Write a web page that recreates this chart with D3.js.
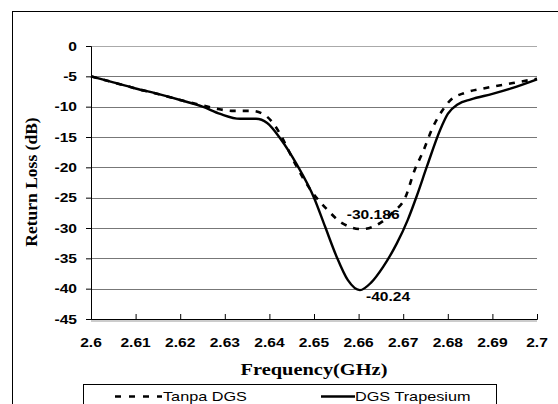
<!DOCTYPE html>
<html><head><meta charset="utf-8">
<script src="https://cdn.jsdelivr.net/npm/d3@7"></script>
<style>html,body{margin:0;padding:0;background:#fff;}svg{display:block;}</style>
</head><body>
<script>
const xTicks = [2.6, 2.61, 2.62, 2.63, 2.64, 2.65, 2.66, 2.67, 2.68, 2.69, 2.7];
const xTickLabels = ["2.6","2.61","2.62","2.63","2.64","2.65","2.66","2.67","2.68","2.69","2.7"];
const yTicks = [0, -5, -10, -15, -20, -25, -30, -35, -40, -45];

const seriesNames = ["Tanpa DGS", "DGS Trapesium"];

const freqTanpa = [2.600,2.605,2.610,2.615,2.620,2.625,2.6285,2.632,2.636,2.639,2.6408,2.6424,2.644,2.6457,2.6495,2.653,2.6563,2.6608,2.6648,2.6677,2.6704,2.6726,2.6744,2.6767,2.6789,2.6805,2.6839,2.688,2.6946,2.700];
const rlTanpa   = [-5.0,-6.0,-7.0,-7.9,-8.9,-9.8,-10.4,-10.7,-10.7,-11.4,-12.7,-14.5,-16.8,-19.3,-24.0,-27.0,-29.2,-30.186,-29.2,-27.4,-25.1,-20.4,-17.5,-13.3,-10.5,-9.0,-7.7,-7.0,-6.1,-5.4];

const freqTrap = [2.600,2.605,2.610,2.615,2.620,2.625,2.629,2.6334,2.637,2.6395,2.6424,2.6462,2.650,2.6525,2.655,2.6576,2.6603,2.6628,2.6655,2.6686,2.671,2.6731,2.6753,2.6783,2.680,2.6823,2.6852,2.690,2.6942,2.700];
const rlTrap   = [-5.0,-6.0,-7.0,-7.9,-8.9,-10.0,-11.2,-12.0,-12.0,-12.7,-15.2,-19.6,-25.0,-29.8,-34.6,-38.6,-40.24,-39.0,-36.4,-32.5,-28.7,-24.6,-19.9,-13.8,-11.2,-9.6,-8.8,-7.9,-7.0,-5.5];

const annotations = [
  {label: "-30.186", f: 2.6608, v: -30.186},
  {label: "-40.24", f: 2.6603, v: -40.24}
];

const W = 558, H = 404;
const svg = d3.select("body").append("svg").attr("width", W).attr("height", H);

// outer frame
svg.append("rect").attr("x", 12.5).attr("y", 11.5).attr("width", 600).attr("height", 450)
  .attr("fill", "none").attr("stroke", "#000").attr("stroke-width", 1);

const x = d3.scaleLinear().domain([2.6, 2.7]).range([91, 537]);
const y = d3.scaleLinear().domain([-45, 0]).range([319, 46]);

const SX = 1.3;
function txt(g, str, px, py, opts) {
  return g.append("text")
    .attr("transform", `translate(${px},${py}) scale(${opts.sx || SX},1)`)
    .attr("text-anchor", opts.anchor || "start")
    .attr("font-family", opts.family || "Arial, 'Liberation Sans', sans-serif")
    .attr("font-weight", opts.weight || "bold")
    .attr("font-size", opts.size || 12)
    .attr("fill", "#000")
    .text(str);
}

// gridlines
svg.append("g").selectAll("line").data(yTicks.filter(d => d > -45)).join("line")
  .attr("x1", x(2.6)).attr("x2", x(2.7))
  .attr("y1", d => Math.round(y(d)) + 0.5).attr("y2", d => Math.round(y(d)) + 0.5)
  .attr("stroke", d => d === 0 ? "#aaa" : "#777").attr("stroke-width", 1);

// bottom gray shadow line
svg.append("line").attr("x1", x(2.6)).attr("x2", x(2.7)).attr("y1", 321).attr("y2", 321)
  .attr("stroke", "#bbb").attr("stroke-width", 1.5);

// y axis
const yAxis = d3.axisLeft(y).tickValues(yTicks).tickSize(5).tickFormat("");
const gy = svg.append("g").attr("transform", `translate(${x(2.6)},0)`).call(yAxis);
gy.select(".domain").attr("stroke", "#000");
gy.selectAll(".tick line").attr("stroke", "#000");
yTicks.forEach(d => txt(svg, String(d), 77, y(d) + 4.5, {anchor: "end", size: 12}));

// x axis
const xAxis = d3.axisBottom(x).tickValues(xTicks).tickSize(-5).tickFormat("");
const gx = svg.append("g").attr("transform", `translate(0,${y(-45)})`).call(xAxis);
gx.select(".domain").attr("stroke", "#000");
gx.selectAll(".tick line").attr("stroke", "#000");
xTicks.forEach((d, i) => txt(svg, xTickLabels[i], x(d), 347, {anchor: "middle", size: 12}));

// axis titles
txt(svg, "Frequency(GHz)", 314, 375, {anchor: "middle", size: 17, sx: 1.2,
  family: "'Times New Roman', 'Liberation Serif', serif"});
svg.append("text")
  .attr("transform", "translate(37,182) rotate(-90)")
  .attr("text-anchor", "middle")
  .attr("font-family", "'Times New Roman', 'Liberation Serif', serif")
  .attr("font-weight", "bold").attr("font-size", 17.5)
  .text("Return Loss (dB)");

// lines
const line = d3.line().x(d => x(d[0])).y(d => y(d[1])).curve(d3.curveMonotoneX);
const dTanpa = freqTanpa.map((f, i) => [f, rlTanpa[i]]);
const dTrap = freqTrap.map((f, i) => [f, rlTrap[i]]);

svg.append("path").datum(dTanpa).attr("d", line).attr("fill", "none")
  .attr("stroke", "#000").attr("stroke-width", 2.6).attr("stroke-dasharray", "6,7");
svg.append("path").datum(dTrap).attr("d", line).attr("fill", "none")
  .attr("stroke", "#000").attr("stroke-width", 2.4);

// annotations
txt(svg, annotations[0].label, x(annotations[0].f) + 11, y(annotations[0].v) - 10, {anchor: "middle", size: 12});
txt(svg, annotations[1].label, x(annotations[1].f) + 6, y(annotations[1].v) + 11, {anchor: "start", size: 12});

// legend
const lg = svg.append("g");
lg.append("rect").attr("x", 83.5).attr("y", 384.5).attr("width", 413).attr("height", 40)
  .attr("fill", "#fff").attr("stroke", "#000").attr("stroke-width", 1);
lg.append("line").attr("x1", 115).attr("x2", 162).attr("y1", 396.5).attr("y2", 396.5)
  .attr("stroke", "#000").attr("stroke-width", 2.6).attr("stroke-dasharray", "6,8");
txt(lg, seriesNames[0], 163, 401, {weight: "normal", size: 12.5});
lg.append("line").attr("x1", 321).attr("x2", 355).attr("y1", 396.5).attr("y2", 396.5)
  .attr("stroke", "#000").attr("stroke-width", 2.4);
txt(lg, seriesNames[1], 355, 401, {weight: "normal", size: 12.5});
</script>
</body></html>
